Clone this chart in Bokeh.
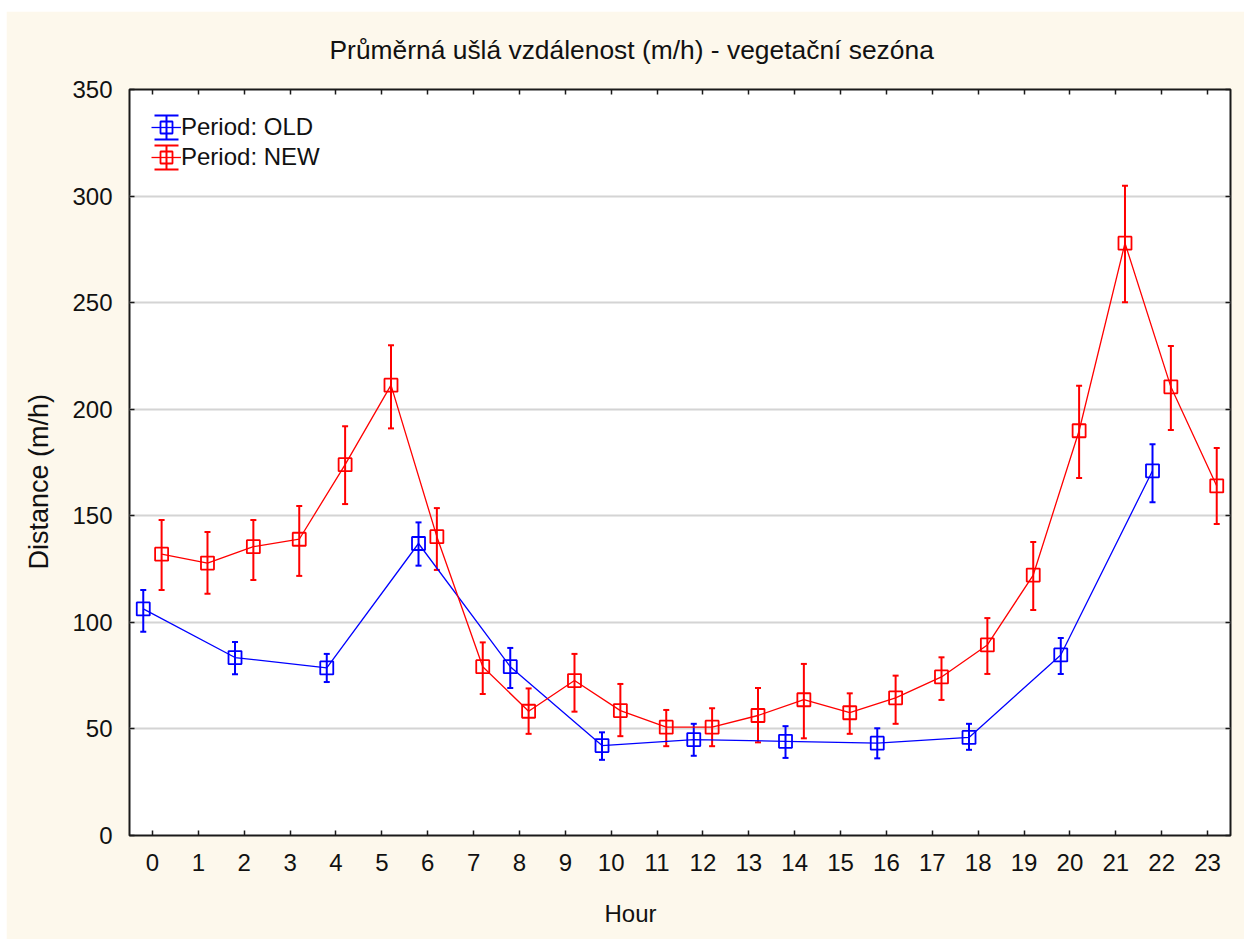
from bokeh.plotting import figure
from bokeh.models import (ColumnDataSource, Range1d, FixedTicker, LinearAxis, Whisker,
                          TeeHead, Legend, LegendItem, Title)
from bokeh.transform import dodge
from bokeh.embed import file_html
from bokeh.resources import INLINE

# ---------------- data ----------------
TITLE = "Průměrná ušlá vzdálenost (m/h) - vegetační sezóna"
X_LABEL = "Hour"
Y_LABEL = "Distance (m/h)"
x_ticks = list(range(24))
y_ticks = [0, 50, 100, 150, 200, 250, 300, 350]

old_hours = [0, 2, 4, 6, 8, 10, 12, 14, 16, 18, 20, 22]
old_mean = [106.3, 83.5, 78.6, 137.0, 79.2, 42.2, 45.0, 44.2, 43.3, 46.0, 84.7, 171.1]
old_upper = [115.2, 90.8, 85.2, 146.9, 88.0, 48.4, 52.4, 51.3, 50.3, 52.4, 92.7, 183.6]
old_lower = [95.6, 75.6, 72.0, 126.6, 69.2, 35.5, 37.4, 36.4, 36.2, 40.2, 75.8, 156.4]

new_hours = list(range(24))
new_mean = [132.0, 127.8, 135.5, 139.0, 174.0, 211.3, 140.2, 79.2, 58.3, 72.7, 58.6, 50.8,
            50.8, 56.3, 63.7, 57.6, 64.6, 74.4, 89.4, 122.2, 189.9, 277.9, 210.5, 164.0]
new_upper = [148.0, 142.4, 148.0, 154.6, 192.0, 230.0, 153.6, 90.6, 69.0, 85.2, 71.1, 58.9,
             59.7, 69.2, 80.5, 66.7, 75.0, 83.6, 102.0, 137.7, 211.0, 304.9, 229.7, 181.8]
new_lower = [115.2, 113.4, 119.9, 121.8, 155.5, 191.0, 124.6, 66.4, 47.7, 58.1, 46.6, 41.9,
             41.9, 43.7, 45.6, 47.7, 52.4, 63.6, 75.8, 105.8, 167.7, 250.2, 190.3, 146.1]

series = [
    ("Period: OLD", old_hours, old_mean, old_upper, old_lower, "#0000FF", -0.2),
    ("Period: NEW", new_hours, new_mean, new_upper, new_lower, "#FF0000", 0.2),
]

# ---------------- style ----------------
FONT = "Liberation Sans"
CREAM = "#FDF8EC"
INK = "#111111"
FRAME = "#1a1a1a"

p = figure(width=1238, height=928, margin=(11, 0, 0, 6),
           x_range=Range1d(-0.5, 23.5), y_range=Range1d(0, 350),
           output_backend="svg", toolbar_location=None,
           min_border_left=123, min_border_right=14, min_border_top=78, min_border_bottom=104,
           background_fill_color="white", border_fill_color=CREAM,
           outline_line_color=FRAME, outline_line_width=2)

p.xgrid.visible = False
p.ygrid.grid_line_color = "#D4D4D4"
p.ygrid.grid_line_width = 2


def style_axis(ax, show_labels, standoff):
    ax.axis_line_color = None
    ax.major_tick_in = 5
    ax.major_tick_out = 0
    ax.minor_tick_in = 0
    ax.minor_tick_out = 0
    ax.major_tick_line_color = FRAME
    ax.major_tick_line_width = 1.5
    ax.major_label_text_font = FONT
    if show_labels:
        ax.major_label_text_color = INK
        ax.major_label_text_font_size = "24px"
        ax.major_label_standoff = standoff
    else:
        ax.major_label_text_color = None
        ax.major_label_text_font_size = "1px"
        ax.major_label_standoff = 0


xt = FixedTicker(ticks=x_ticks)
yt = FixedTicker(ticks=y_ticks)
p.xaxis.ticker = xt
p.yaxis.ticker = yt
p.ygrid.ticker = yt
for ax in p.xaxis:
    style_axis(ax, True, 18)
for ax in p.yaxis:
    style_axis(ax, True, 17)

top_axis = LinearAxis(ticker=FixedTicker(ticks=x_ticks))
style_axis(top_axis, False, 0)
p.add_layout(top_axis, "above")
right_axis = LinearAxis(ticker=FixedTicker(ticks=y_ticks))
style_axis(right_axis, False, 0)
p.add_layout(right_axis, "right")

# invisible spacer between the x tick labels and the "Hour" title
spacer_axis = LinearAxis(ticker=FixedTicker(ticks=x_ticks))
style_axis(spacer_axis, False, 0)
spacer_axis.major_tick_in = 0
spacer_axis.major_tick_out = 23
spacer_axis.major_tick_line_color = None
p.add_layout(spacer_axis, "below")

legend_items = []
for label, hrs, mean, up, lo, color, off in series:
    src = ColumnDataSource(data=dict(hour=hrs, mean=mean, upper=up, lower=lo))
    line_r = p.line(x=dodge("hour", off), y="mean", source=src,
                    line_color=color, line_width=1.3)
    p.add_layout(Whisker(base=dodge("hour", off), upper="upper", lower="lower", source=src,
                         dimension="height", line_color=color, line_width=2,
                         upper_head=TeeHead(size=6, line_color=color, line_width=2),
                         lower_head=TeeHead(size=6, line_color=color, line_width=2)))
    sq_r = p.scatter(x=dodge("hour", off), y="mean", source=src, marker="square",
                     size=13, fill_color=None, line_color=color, line_width=1.8)
    # muted (invisible in the plot) glyphs that draw the error-bar part of the legend icon
    cap_r = p.quad(left=dodge("hour", off), right=dodge("hour", off), top="upper",
                   bottom="lower", source=src, fill_color=None, line_color=color,
                   line_width=2, line_dash="24 24", muted_line_alpha=0, muted_fill_alpha=0)
    cap_r.muted = True
    bar_r = p.segment(x0=dodge("hour", off), y0="lower", x1=dodge("hour", off), y1="upper",
                      source=src, line_color=color, line_width=24, line_dash="0 14 2 14",
                      muted_line_alpha=0)
    bar_r.muted = True
    legend_items.append(LegendItem(label=label, renderers=[line_r, cap_r, bar_r, sq_r]))

legend = Legend(items=legend_items, location=(22, 663),
                border_line_color=None, background_fill_alpha=0,
                padding=0, spacing=0, margin=0,
                glyph_width=30, glyph_height=30, label_height=30, label_standoff=0,
                label_text_font=FONT, label_text_font_size="24px", label_text_color=INK)
p.add_layout(legend)

p.title.text = TITLE
p.title.align = "left"
p.title.offset = 200
p.title.vertical_align = "top"
p.title.standoff = 46
p.title.text_font = FONT
p.title.text_font_size = "26.4px"
p.title.text_font_style = "normal"
p.title.text_color = INK

p.add_layout(Title(text=X_LABEL, align="left", offset=475, vertical_align="bottom",
                   standoff=2, text_font=FONT, text_font_size="24px",
                   text_font_style="normal", text_color=INK), "below")
p.add_layout(Title(text=Y_LABEL, align="left", offset=266, vertical_align="middle",
                   standoff=29, text_font=FONT, text_font_size="27px",
                   text_font_style="normal", text_color=INK), "left")

open("out.html", "w").write(file_html(p, INLINE))
